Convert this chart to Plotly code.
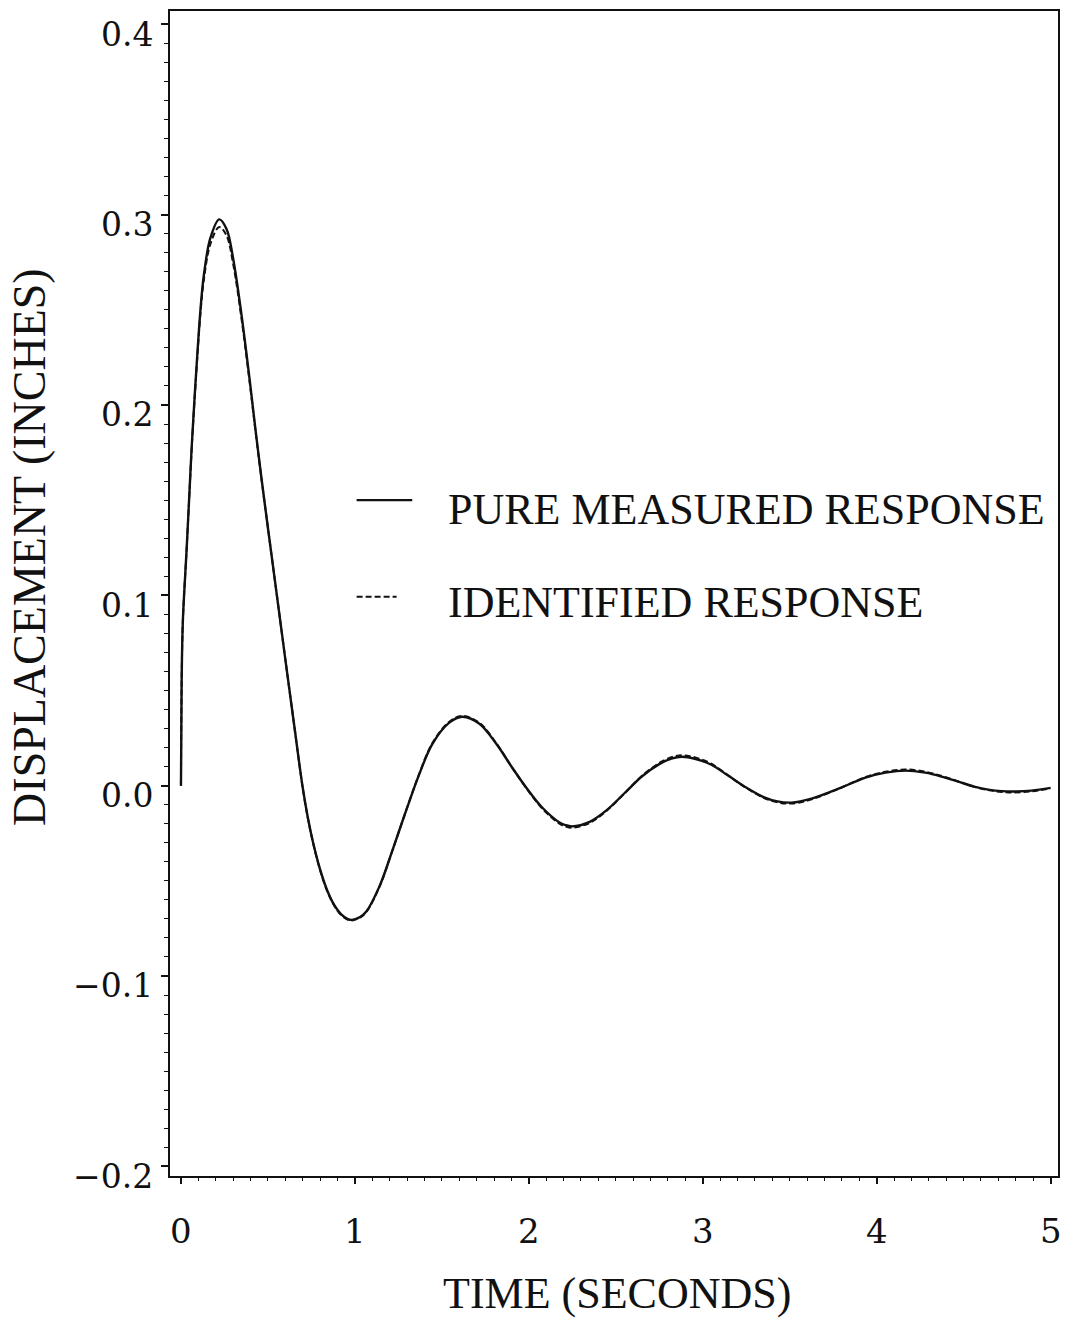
import plotly.graph_objects as go

# Time samples (seconds) and displacement (inches) for the two responses
time_s = [
    0.000, 0.004, 0.011, 0.033, 0.052, 0.063, 0.086, 0.113, 0.132, 0.170,
    0.220, 0.262, 0.300, 0.348, 0.396, 0.430, 0.463, 0.500, 0.550, 0.600,
    0.650, 0.700, 0.730, 0.760, 0.800, 0.840, 0.880, 0.920, 0.960, 0.985,
    1.030, 1.067, 1.142, 1.216, 1.297, 1.371, 1.446, 1.543, 1.618, 1.716,
    1.813, 1.905, 1.985, 2.077, 2.174, 2.210, 2.249, 2.350, 2.450, 2.550,
    2.650, 2.750, 2.820, 2.880, 2.960, 3.050, 3.150, 3.250, 3.350, 3.430,
    3.511, 3.626, 3.781, 3.936, 4.051, 4.166, 4.280, 4.380, 4.470, 4.560,
    4.650, 4.720, 4.780, 4.890, 5.000,
]

measured = [
    0.0000, 0.0550, 0.0866, 0.1249, 0.1600, 0.1800, 0.2150, 0.2510, 0.2685, 0.2880,
    0.2975, 0.2925, 0.2770, 0.2475, 0.2125, 0.1860, 0.1615, 0.1355, 0.1010, 0.0665,
    0.0325, -0.0010, -0.0170, -0.0300, -0.0440, -0.0548, -0.0625, -0.0675, -0.0701, -0.0705,
    -0.0690, -0.0660, -0.0528, -0.0340, -0.0125, 0.0062, 0.0220, 0.0331, 0.0362, 0.0325,
    0.0220, 0.0094, -0.0010, -0.0115, -0.0192, -0.0207, -0.0214, -0.0190, -0.0127, -0.0040,
    0.0048, 0.0113, 0.0142, 0.0152, 0.0140, 0.0110, 0.0050, -0.0010, -0.0060, -0.0083,
    -0.0089, -0.0068, -0.0016, 0.0042, 0.0068, 0.0079, 0.0068, 0.0046, 0.0021, -0.0005,
    -0.0022, -0.0029, -0.0031, -0.0026, -0.0012,
]

identified = [
    0.0000, 0.0550, 0.0866, 0.1249, 0.1595, 0.1792, 0.2138, 0.2492, 0.2660, 0.2848,
    0.2935, 0.2890, 0.2742, 0.2455, 0.2112, 0.1852, 0.1612, 0.1355, 0.1010, 0.0665,
    0.0325, -0.0012, -0.0172, -0.0303, -0.0444, -0.0552, -0.0629, -0.0679, -0.0705, -0.0708,
    -0.0693, -0.0663, -0.0530, -0.0341, -0.0124, 0.0064, 0.0224, 0.0336, 0.0366, 0.0330,
    0.0223, 0.0094, -0.0012, -0.0120, -0.0198, -0.0214, -0.0221, -0.0196, -0.0130, -0.0041,
    0.0051, 0.0119, 0.0149, 0.0159, 0.0147, 0.0115, 0.0052, -0.0012, -0.0064, -0.0088,
    -0.0094, -0.0072, -0.0017, 0.0045, 0.0073, 0.0085, 0.0073, 0.0049, 0.0022, -0.0006,
    -0.0025, -0.0033, -0.0036, -0.0030, -0.0014,
]

x_ticks = [0, 1, 2, 3, 4, 5]
x_tick_labels = ["0", "1", "2", "3", "4", "5"]
y_ticks = [-0.2, -0.1, 0.0, 0.1, 0.2, 0.3, 0.4]
y_tick_labels = ["\u22120.2", "\u22120.1", "0.0", "0.1", "0.2", "0.3", "0.4"]

series_names = ["PURE MEASURED RESPONSE", "IDENTIFIED RESPONSE"]

INK = "#111111"
NUM_FONT = "DejaVu Serif"
TXT_FONT = "Liberation Serif"

fig = go.Figure()

fig.add_trace(go.Scatter(
    x=time_s, y=measured, mode="lines", name=series_names[0],
    line=dict(color=INK, width=2.4, shape="spline", smoothing=1.0),
    showlegend=False,
))
fig.add_trace(go.Scatter(
    x=time_s, y=identified, mode="lines", name=series_names[1],
    line=dict(color=INK, width=2.0, dash="6px,3px", shape="spline", smoothing=1.0),
    showlegend=False,
))

# Legend drawn inside the plot: line samples plus labels
fig.add_shape(type="line", xref="x", yref="y", x0=1.01, x1=1.33, y0=0.150, y1=0.150,
              line=dict(color=INK, width=2.4))
fig.add_shape(type="line", xref="x", yref="y", x0=1.01, x1=1.24, y0=0.0992, y1=0.0992,
              line=dict(color=INK, width=2.0, dash="6px,3px"))
fig.add_annotation(x=1.526, y=0.1453, xref="x", yref="y", text=series_names[0],
                   showarrow=False, xanchor="left", yanchor="middle",
                   font=dict(family=TXT_FONT, size=44, color=INK))
fig.add_annotation(x=1.526, y=0.096, xref="x", yref="y", text=series_names[1],
                   showarrow=False, xanchor="left", yanchor="middle",
                   font=dict(family=TXT_FONT, size=44, color=INK))

# Tick labels
for v, lab in zip(y_ticks, y_tick_labels):
    fig.add_annotation(x=0, y=v, xref="paper", yref="y", text=lab, showarrow=False,
                       xanchor="right", yanchor="middle", xshift=-15, yshift=-10,
                       font=dict(family=NUM_FONT, size=33, color=INK))
for v, lab in zip(x_ticks, x_tick_labels):
    fig.add_annotation(x=v, y=0, xref="x", yref="paper", text=lab, showarrow=False,
                       xanchor="center", yanchor="middle", yshift=-55,
                       font=dict(family=NUM_FONT, size=34, color=INK))

# Axis titles
fig.add_annotation(x=0.503, y=0, xref="paper", yref="paper", text="TIME (SECONDS)",
                   showarrow=False, xanchor="center", yanchor="middle", yshift=-117,
                   font=dict(family=TXT_FONT, size=44, color=INK))
fig.add_annotation(x=0, y=0.54, xref="paper", yref="paper", text="DISPLACEMENT (INCHES)",
                   showarrow=False, xanchor="center", yanchor="middle", xshift=-140,
                   textangle=-90, font=dict(family=TXT_FONT, size=46, color=INK))

fig.update_xaxes(
    range=[-0.063, 5.043], tickmode="array", tickvals=x_ticks, showticklabels=False,
    ticks="outside", ticklen=6, tickwidth=1.5, tickcolor=INK,
    minor=dict(dtick=0.1, tick0=0, ticks="outside", ticklen=3, tickwidth=1, tickcolor=INK,
               showgrid=False),
    showline=True, linecolor=INK, linewidth=2, mirror=True,
    showgrid=False, zeroline=False,
)
fig.update_yaxes(
    range=[-0.2051, 0.407], tickmode="array", tickvals=y_ticks, showticklabels=False,
    ticks="outside", ticklen=7, tickwidth=1.5, tickcolor=INK,
    minor=dict(dtick=0.01, tick0=0, ticks="outside", ticklen=4, tickwidth=1, tickcolor=INK,
               showgrid=False),
    showline=True, linecolor=INK, linewidth=2, mirror=True,
    showgrid=False, zeroline=False,
)

fig.update_layout(
    width=1069, height=1320, autosize=False,
    margin=dict(l=170, r=9, t=9, b=144),
    paper_bgcolor="white", plot_bgcolor="white",
    showlegend=False,
)

fig.write_html("out.html")
